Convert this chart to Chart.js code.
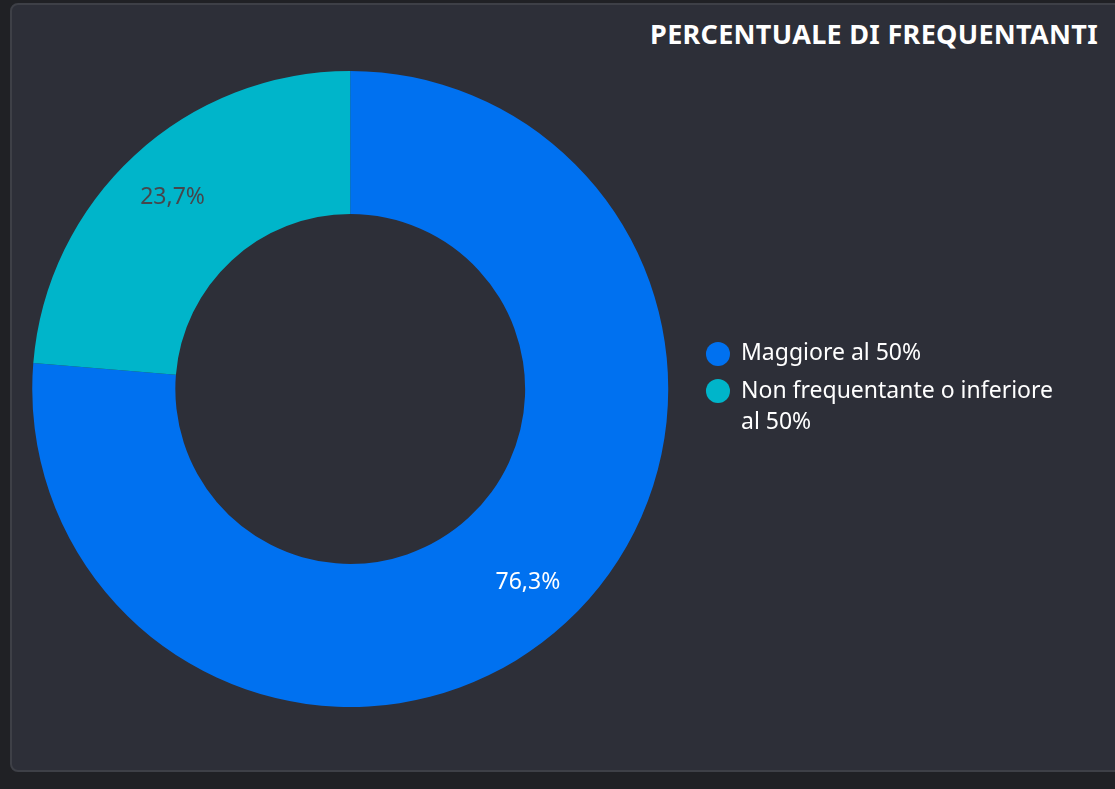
<!DOCTYPE html>
<html>
<head>
<meta charset="utf-8">
<script src="https://cdn.jsdelivr.net/npm/chart.js@4"></script>
<style>
  html, body { margin: 0; padding: 0; background: #202125; overflow: hidden; }
  .card {
    position: absolute; left: 10px; top: 3px; width: 1125px; height: 765px;
    background: #2d2f38; border: 2px solid #3e4047; border-radius: 8px;
  }
  .title {
    position: absolute; right: 17px; top: 15px; margin: 0;
    font: bold 27px "Noto Sans", sans-serif; color: #ffffff; letter-spacing: 0.3px;
  }
  canvas { position: absolute; left: 0; top: 0; }
</style>
</head>
<body>
<div class="card"></div>
<h1 class="title">PERCENTUALE DI FREQUENTANTI</h1>
<canvas id="freqChart" width="1115" height="789"></canvas>
<script>
const categories = ['Maggiore al 50%', 'Non frequentante o inferiore al 50%'];
const percentages = [76.3, 23.7];
const sliceColors = ['#0071f0', '#00b5ca'];
const labelColors = ['#ffffff', '#45474d'];

// wrap a legend label into lines of at most maxChars
function wrapText(text, maxChars) {
    const lines = [];
    let line = '';
    text.split(' ').forEach(function(word) {
        const next = line ? line + ' ' + word : word;
        if (next.length > maxChars && line) {
            lines.push(line);
            line = word;
        } else {
            line = next;
        }
    });
    lines.push(line);
    return lines;
}

// draws the percentage inside each slice
const sliceLabels = {
    id: 'sliceLabels',
    afterDatasetsDraw(chart) {
        const ctx = chart.ctx;
        const meta = chart.getDatasetMeta(0);
        ctx.save();
        ctx.font = '23px "Noto Sans", sans-serif';
        ctx.textAlign = 'center';
        ctx.textBaseline = 'middle';
        meta.data.forEach(function(arc, i) {
            const p = arc.getProps(['x', 'y', 'startAngle', 'endAngle', 'innerRadius', 'outerRadius'], true);
            const mid = (p.startAngle + p.endAngle) / 2;
            const r = p.innerRadius + (p.outerRadius - p.innerRadius) * 0.61;
            ctx.fillStyle = labelColors[i];
            ctx.fillText(percentages[i].toFixed(1).replace('.', ',') + '%', p.x + Math.cos(mid) * r, p.y + Math.sin(mid) * r + 1);
        });
        ctx.restore();
    }
};

document.addEventListener('DOMContentLoaded', function() {
    const ctx = document.getElementById('freqChart').getContext('2d');
    new Chart(ctx, {
        type: 'doughnut',
        data: {
            labels: categories,
            datasets: [{
                data: percentages,
                backgroundColor: sliceColors,
                borderWidth: 0
            }]
        },
        options: {
            responsive: false,
            animation: false,
            devicePixelRatio: 1,
            cutout: '55%',
            layout: {
                padding: { top: 71, bottom: 82, left: 0, right: 52 }
            },
            plugins: {
                tooltip: { enabled: false },
                legend: {
                    position: 'right',
                    title: { display: true, text: '', padding: 0, font: { size: 6, lineHeight: 1 } },
                    labels: {
                        color: '#ffffff',
                        font: { family: '"Noto Sans", sans-serif', size: 23, lineHeight: 1.35 },
                        usePointStyle: true,
                        pointStyle: 'circle',
                        boxWidth: 23,
                        boxHeight: 17,
                        padding: 6,
                        generateLabels: function(chart) {
                            return categories.map(function(c, i) {
                                return {
                                    text: wrapText(c, 30),
                                    fillStyle: sliceColors[i],
                                    strokeStyle: sliceColors[i],
                                    lineWidth: 0,
                                    fontColor: '#ffffff',
                                    pointStyle: 'circle',
                                    hidden: false,
                                    index: i
                                };
                            });
                        }
                    }
                }
            }
        },
        plugins: [sliceLabels]
    });
});
</script>
</body>
</html>
